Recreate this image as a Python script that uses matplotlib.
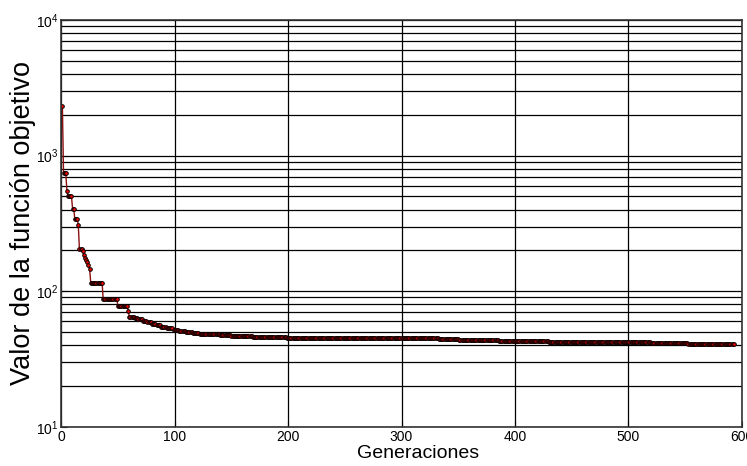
import matplotlib
matplotlib.use('Agg')
import matplotlib.pyplot as plt
import numpy as np
from matplotlib.ticker import LogLocator, NullFormatter, MultipleLocator

plt.rcParams['font.family'] = ['Liberation Sans', 'DejaVu Sans']
plt.rcParams['mathtext.default'] = 'regular'

# generation where the best value changes, and the best value from there on
change_gen = [1, 2, 5, 6, 10, 12, 15, 16, 19, 20, 21, 22, 23, 24, 25, 26, 37, 50, 59, 60,
              65, 68, 72, 76, 80, 84, 88, 93, 99, 104, 110, 116, 122, 130, 140, 150, 160,
              169, 185, 199, 305, 333, 351, 386, 430, 520, 553]
best_value = [2330, 740, 550, 500, 405, 340, 310, 206, 197, 185, 176, 170, 163, 157, 146, 116,
              87, 78, 72, 65, 63.5, 62, 60.5, 59, 57.5, 56.3, 54.8, 53.2, 51.5, 50.6, 49.7,
              49.1, 48.5, 48.0, 47.6, 47.1, 46.6, 46.1, 45.7, 45.4, 45.0, 44.4, 43.4, 43.0,
              42.2, 41.8, 40.9]
last_gen = 593

# best value is held between improvements
counts = np.diff(change_gen + [last_gen + 1])
gens = np.arange(change_gen[0], last_gen + 1)
vals = np.repeat(best_value, counts)

fig = plt.figure(figsize=(7.47, 4.66), dpi=100)
ax = fig.add_axes([0.082, 0.084, 0.911, 0.873])

ax.plot(gens, vals, color='#8b1010', lw=1, marker='o', markersize=2.6,
        markerfacecolor='red', markeredgecolor='black', markeredgewidth=0.7)

ax.set_yscale('log')
ax.set_ylim(10, 1e4)
ax.set_xlim(0, 600)
ax.xaxis.set_major_locator(MultipleLocator(100))
ax.yaxis.set_major_locator(LogLocator(base=10))
ax.yaxis.set_minor_locator(LogLocator(base=10, subs=np.arange(2, 10)))
ax.yaxis.set_minor_formatter(NullFormatter())

ax.grid(True, which='both', axis='y', color='black', lw=0.9)
ax.grid(True, which='major', axis='x', color='black', lw=0.9)
ax.tick_params(which='both', direction='in', labelsize=10, pad=2)
ax.tick_params(which='major', length=4)
ax.tick_params(which='minor', length=2.5)
for s in ax.spines.values():
    s.set_color('#333333')
    s.set_linewidth(1.2)

ax.set_xlabel('Generaciones', fontsize=14, labelpad=1)
ax.xaxis.set_label_coords(0.524, -0.045)
ax.set_ylabel('Valor de la función objetivo', fontsize=19.5, labelpad=0)

plt.savefig('out.png', dpi=100)
